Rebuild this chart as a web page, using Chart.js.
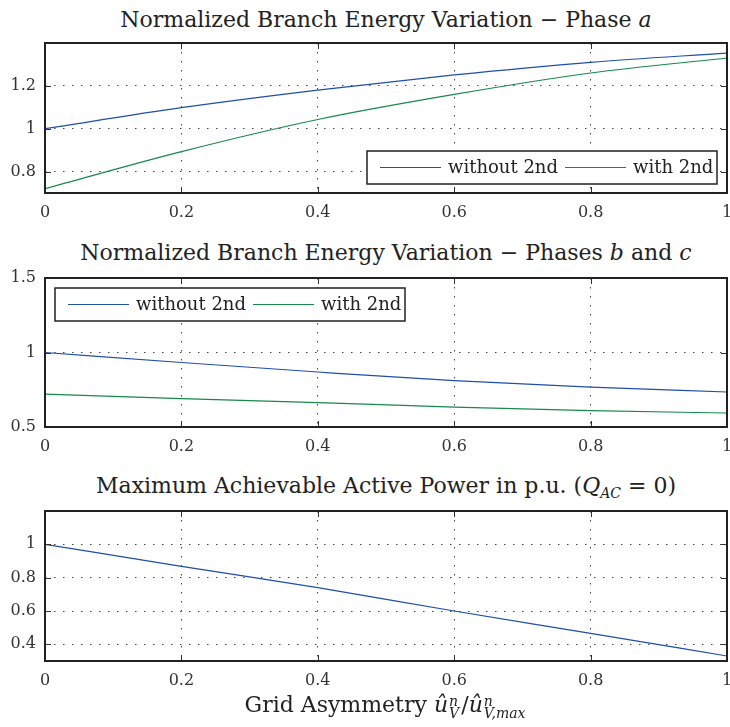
<!DOCTYPE html>
<html>
<head>
<meta charset="utf-8">
<script src="https://cdn.jsdelivr.net/npm/chart.js@4.4.1/dist/chart.umd.min.js"></script>
<style>
  body { margin: 0; background: #fff; }
  #page { position: relative; width: 730px; height: 727px; overflow: hidden; font-family: 'DejaVu Serif', serif; color: #222; }
  .title { position: absolute; left: 45px; width: 682px; text-align: center; font-size: 22px; line-height: 25px; white-space: nowrap; }
  .panel { position: absolute; left: 0; }
  .stack { display: inline-block; vertical-align: -6px; line-height: 12px; font-size: 14px; font-style: italic; text-align: left; margin: 0 2px 0 1px; }
  .stack span { display: block; }
  sub { font-size: 14px; }
</style>
</head>
<body>
<div id="page">
  <div class="title" style="top:7px">Normalized Branch Energy Variation − Phase <i>a</i></div>
  <div class="panel" style="top:33px"><canvas id="chartA" width="730" height="195"></canvas></div>

  <div class="title" style="top:240px">Normalized Branch Energy Variation − Phases <i>b</i> and <i>c</i></div>
  <div class="panel" style="top:268px"><canvas id="chartBC" width="730" height="194"></canvas></div>

  <div class="title" style="top:473px">Maximum Achievable Active Power in p.u. (<i>Q</i><sub><i>AC</i></sub> = 0)</div>
  <div class="panel" style="top:501px"><canvas id="chartP" width="730" height="195"></canvas></div>

  <div class="title" style="top:692px">Grid Asymmetry <i>û</i><span class="stack"><span>n</span><span>V</span></span>/<i>û</i><span class="stack"><span>n</span><span>V,max</span></span></div>
</div>
<script>
// data

const asym = [0, 0.2, 0.4, 0.6, 0.8, 1];
const xTicks = [0, 0.2, 0.4, 0.6, 0.8, 1];
const seriesLabels = ['without 2nd', 'with 2nd'];

const phaseAWithout = [1.0, 1.098, 1.18, 1.251, 1.31, 1.353];
const phaseAWith = [0.72, 0.893, 1.043, 1.16, 1.26, 1.33];
const yTicksA = [0.8, 1, 1.2];

const phaseBCWithout = [1.0, 0.933, 0.869, 0.811, 0.768, 0.735];
const phaseBCWith = [0.721, 0.69, 0.664, 0.633, 0.61, 0.594];
const yTicksBC = [0.5, 1, 1.5];

const maxPower = [1.0, 0.868, 0.74, 0.6, 0.466, 0.33];
const yTicksP = [0.4, 0.6, 0.8, 1];

const blue = '#1f4fa8';
const green = '#17894a';
const font = "'DejaVu Serif', serif";

function points(ys) {
    return asym.map((x, i) => ({ x: x, y: ys[i] }));
}

function fmt(v) {
    return String(+v.toFixed(2));
}

// box, inward ticks and the in-axes legend
const framePlugin = {
    id: 'frame',
    afterDraw(chart, args, opts) {
        const ctx = chart.ctx;
        const a = chart.chartArea;
        const x = chart.scales.x;
        const y = chart.scales.y;
        ctx.save();
        ctx.strokeStyle = '#333';
        ctx.lineWidth = 1;
        ctx.beginPath();
        x.ticks.forEach(t => {
            const px = Math.round(x.getPixelForValue(t.value)) + 0.5;
            ctx.moveTo(px, a.bottom); ctx.lineTo(px, a.bottom - 6);
            ctx.moveTo(px, a.top); ctx.lineTo(px, a.top + 6);
        });
        y.ticks.forEach(t => {
            const py = Math.round(y.getPixelForValue(t.value)) + 0.5;
            ctx.moveTo(a.left, py); ctx.lineTo(a.left + 6, py);
            ctx.moveTo(a.right, py); ctx.lineTo(a.right - 6, py);
        });
        ctx.stroke();
        ctx.lineWidth = 2;
        ctx.strokeStyle = '#222';
        ctx.strokeRect(a.left, a.top, a.right - a.left, a.bottom - a.top);

        if (opts.legend) {
            const lg = opts.legend;
            const bx = lg.right != null ? a.right - lg.right - lg.width : a.left + lg.left;
            const by = lg.bottom != null ? a.bottom - lg.bottom - lg.height : a.top + lg.top;
            ctx.fillStyle = '#fff';
            ctx.fillRect(bx, by, lg.width, lg.height);
            ctx.lineWidth = 1.5;
            ctx.strokeStyle = '#222';
            ctx.strokeRect(bx, by, lg.width, lg.height);
            ctx.font = '18px ' + font;
            ctx.textBaseline = 'middle';
            const cy = by + lg.height / 2;
            chart.data.datasets.forEach((ds, i) => {
                const lx = bx + lg.slots[i];
                ctx.strokeStyle = ds.borderColor;
                ctx.lineWidth = 1.2;
                ctx.beginPath();
                ctx.moveTo(lx, cy); ctx.lineTo(lx + 61, cy);
                ctx.stroke();
                ctx.fillStyle = '#222';
                ctx.fillText(ds.label, lx + 68, cy + 1);
            });
        }
        ctx.restore();
    }
};

function makeChart(id, datasets, yMin, yMax, yTicks, legend) {
    return new Chart(document.getElementById(id), {
        type: 'line',
        data: { datasets: datasets },
        plugins: [framePlugin],
        options: {
            responsive: false,
            animation: false,
            devicePixelRatio: 1,
            layout: { padding: { top: 10, right: 3, left: 0, bottom: 0 } },
            elements: { point: { radius: 0 }, line: { borderWidth: 1.2, cubicInterpolationMode: 'monotone' } },
            plugins: {
                legend: { display: false },
                tooltip: { enabled: false },
                frame: { legend: legend }
            },
            scales: {
                x: {
                    type: 'linear',
                    min: 0,
                    max: 1,
                    afterBuildTicks: s => { s.ticks = xTicks.map(v => ({ value: v })); },
                    afterFit: s => { s.height = 35; s.paddingLeft = 0; s.paddingRight = 0; },
                    ticks: { callback: v => fmt(v), font: { family: font, size: 16 }, color: '#333', padding: 10, maxRotation: 0, autoSkip: false },
                    grid: { color: '#444', lineWidth: 1, drawTicks: false },
                    border: { display: false, dash: [1.5, 7.5] }
                },
                y: {
                    min: yMin,
                    max: yMax,
                    afterBuildTicks: s => { s.ticks = yTicks.map(v => ({ value: v })); },
                    afterFit: s => { s.width = 45; s.paddingTop = 0; s.paddingBottom = 0; },
                    ticks: { callback: v => fmt(v), font: { family: font, size: 16 }, color: '#333', padding: 9, autoSkip: false },
                    grid: { color: '#444', lineWidth: 1, drawTicks: false },
                    border: { display: false, dash: [1.5, 7.5] }
                }
            }
        }
    });
}

makeChart('chartA', [
    { label: seriesLabels[0], data: points(phaseAWithout), borderColor: blue },
    { label: seriesLabels[1], data: points(phaseAWith), borderColor: green }
], 0.7, 1.4, yTicksA, { right: 10, bottom: 9, width: 350, height: 33, slots: [13, 198] });

makeChart('chartBC', [
    { label: seriesLabels[0], data: points(phaseBCWithout), borderColor: blue },
    { label: seriesLabels[1], data: points(phaseBCWith), borderColor: green }
], 0.5, 1.5, yTicksBC, { left: 10, top: 10, width: 350, height: 33, slots: [13, 198] });

makeChart('chartP', [
    { label: 'P', data: points(maxPower), borderColor: blue }
], 0.3, 1.2, yTicksP, null);
</script>
</body>
</html>
